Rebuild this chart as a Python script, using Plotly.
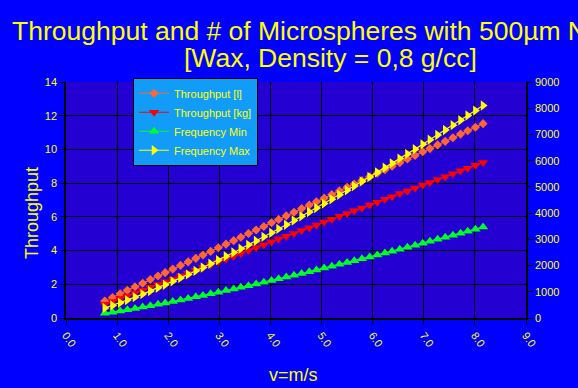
import plotly.graph_objects as go

velocity = [0.76, 0.91, 1.06, 1.20, 1.35, 1.50, 1.65, 1.80, 1.94, 2.09, 2.24, 2.39, 2.54, 2.68, 2.83,
            2.98, 3.13, 3.28, 3.42, 3.57, 3.72, 3.87, 4.02, 4.16, 4.31, 4.46, 4.61, 4.76, 4.90, 5.05,
            5.20, 5.35, 5.50, 5.64, 5.79, 5.94, 6.09, 6.24, 6.38, 6.53, 6.68, 6.83, 6.98, 7.12, 7.27,
            7.42, 7.57, 7.72, 7.86, 8.01, 8.16]

throughput_l = [1.01, 1.22, 1.44, 1.64, 1.85, 2.06, 2.28, 2.49, 2.69, 2.90, 3.12, 3.33, 3.54, 3.74, 3.95,
                4.17, 4.38, 4.59, 4.79, 5.01, 5.22, 5.43, 5.65, 5.85, 6.06, 6.27, 6.49, 6.70, 6.90, 7.11,
                7.32, 7.54, 7.75, 7.95, 8.16, 8.38, 8.59, 8.80, 9.00, 9.22, 9.43, 9.64, 9.86, 10.05, 10.27,
                10.48, 10.69, 10.91, 11.11, 11.32, 11.53]

throughput_kg = [0.81, 0.98, 1.15, 1.31, 1.48, 1.65, 1.82, 1.99, 2.15, 2.32, 2.50, 2.66, 2.83, 2.99, 3.16,
                 3.34, 3.50, 3.67, 3.83, 4.01, 4.18, 4.34, 4.52, 4.68, 4.85, 5.02, 5.19, 5.36, 5.52, 5.69,
                 5.86, 6.03, 6.20, 6.36, 6.53, 6.70, 6.87, 7.04, 7.20, 7.38, 7.54, 7.71, 7.89, 8.04, 8.22,
                 8.38, 8.55, 8.73, 8.89, 9.06, 9.22]

frequency_min = [178, 223, 270, 316, 366, 417, 470, 524, 576, 632, 689, 747, 806, 862, 923,
                 984, 1047, 1110, 1169, 1234, 1299, 1365, 1431, 1494, 1561, 1630, 1698, 1768, 1833, 1903,
                 1974, 2046, 2118, 2185, 2258, 2331, 2405, 2480, 2549, 2624, 2700, 2776, 2852, 2924, 3001,
                 3079, 3157, 3235, 3309, 3388, 3467]

frequency_max = [379, 478, 582, 683, 795, 911, 1030, 1153, 1270, 1398, 1529, 1662, 1798, 1927, 2067,
                 2209, 2354, 2500, 2639, 2789, 2941, 3095, 3250, 3397, 3556, 3716, 3879, 4042, 4196, 4363,
                 4530, 4700, 4870, 5031, 5204, 5378, 5555, 5732, 5898, 6078, 6258, 6440, 6623, 6795, 6980,
                 7167, 7354, 7542, 7720, 7910, 8101]

series_names = ["Throughput [l]", "Throughput [kg]", "Frequency Min", "Frequency Max"]
title_lines = ["Throughput and # of Microspheres with 500µm Nozzle", "[Wax, Density = 0,8 g/cc]"]
x_title = "v=m/s"
y_title = "Throughput"
x_ticks = [0, 1, 2, 3, 4, 5, 6, 7, 8, 9]
y_ticks = [0, 2, 4, 6, 8, 10, 12, 14]
y2_ticks = [0, 1000, 2000, 3000, 4000, 5000, 6000, 7000, 8000, 9000]

FONT = "Liberation Sans, Arial, sans-serif"
YEL = "#FFFF00"

fig = go.Figure()
fig.add_trace(go.Scatter(x=velocity, y=throughput_l, name=series_names[0], mode="lines+markers",
                         line=dict(color="#FF6633", width=1.2),
                         marker=dict(symbol="diamond", size=7, color="#FF6633")))
fig.add_trace(go.Scatter(x=velocity, y=throughput_kg, name=series_names[1], mode="lines+markers",
                         line=dict(color="#FF0000", width=1.2),
                         marker=dict(symbol="triangle-down", size=9, color="#FF0000")))
fig.add_trace(go.Scatter(x=velocity, y=frequency_min, name=series_names[2], mode="lines+markers", yaxis="y2",
                         line=dict(color="#00FF22", width=1.2),
                         marker=dict(symbol="triangle-up", size=9, color="#00FF22")))
fig.add_trace(go.Scatter(x=velocity, y=frequency_max, name=series_names[3], mode="lines+markers", yaxis="y2",
                         line=dict(color="#FFFF00", width=1.2),
                         marker=dict(symbol="triangle-right", size=9, color="#FFFF00")))

fig.update_layout(
    width=578, height=388,
    paper_bgcolor="#0000FF", plot_bgcolor="#2400D2",
    margin=dict(l=66, r=52, t=82, b=70, autoexpand=False),
    font=dict(family=FONT, color=YEL, size=11),
    xaxis=dict(range=[0, 9], tickvals=x_ticks, tickformat=".1f", tickangle=55, automargin=False,
               showgrid=True, gridcolor="#000000", gridwidth=1,
               showline=True, linecolor="#000000", linewidth=1.5,
               ticks="outside", ticklen=5, tickcolor="#000000",
               tickfont=dict(size=11, color=YEL), zeroline=False),
    yaxis=dict(range=[0, 14], tickvals=y_ticks, automargin=False,
               showgrid=True, gridcolor="#000000", gridwidth=1,
               showline=True, linecolor="#000000", linewidth=1.5,
               ticks="outside", ticklen=5, tickcolor="#000000",
               tickfont=dict(size=11, color=YEL), zeroline=False),
    yaxis2=dict(range=[0, 9000], tickvals=y2_ticks, overlaying="y", side="right", automargin=False,
                showgrid=False, showline=True, linecolor="#000000", linewidth=1.5,
                ticks="outside", ticklen=5, tickcolor="#000000",
                tickfont=dict(size=11, color=YEL), zeroline=False),
    legend=dict(x=0.1457, y=1.018, xanchor="left", yanchor="top",
                bgcolor="#129CFA", bordercolor="#000000", borderwidth=1,
                font=dict(size=11, color=YEL, family=FONT), itemwidth=30, tracegroupgap=0),
    showlegend=True,
    annotations=[
        dict(text=title_lines[0], xref="paper", yref="paper", x=0.574, y=1.216, xanchor="center",
             yanchor="middle", showarrow=False, font=dict(family=FONT, size=26.5, color=YEL)),
        dict(text=title_lines[1], xref="paper", yref="paper", x=0.574, y=1.102, xanchor="center",
             yanchor="middle", showarrow=False, font=dict(family=FONT, size=26.5, color=YEL)),
        dict(text=x_title, xref="paper", yref="paper", x=0.4935, y=-0.2415, xanchor="center",
             yanchor="middle", showarrow=False, font=dict(family=FONT, size=18, color=YEL)),
        dict(text=y_title, xref="paper", yref="paper", x=-0.074, y=0.445, xanchor="center",
             yanchor="middle", textangle=-90, showarrow=False, font=dict(family=FONT, size=18, color=YEL)),
    ],
)

fig.write_html("out.html", config={"displayModeBar": False},
               post_script="document.body.style.margin='0';document.body.style.overflow='hidden';")
